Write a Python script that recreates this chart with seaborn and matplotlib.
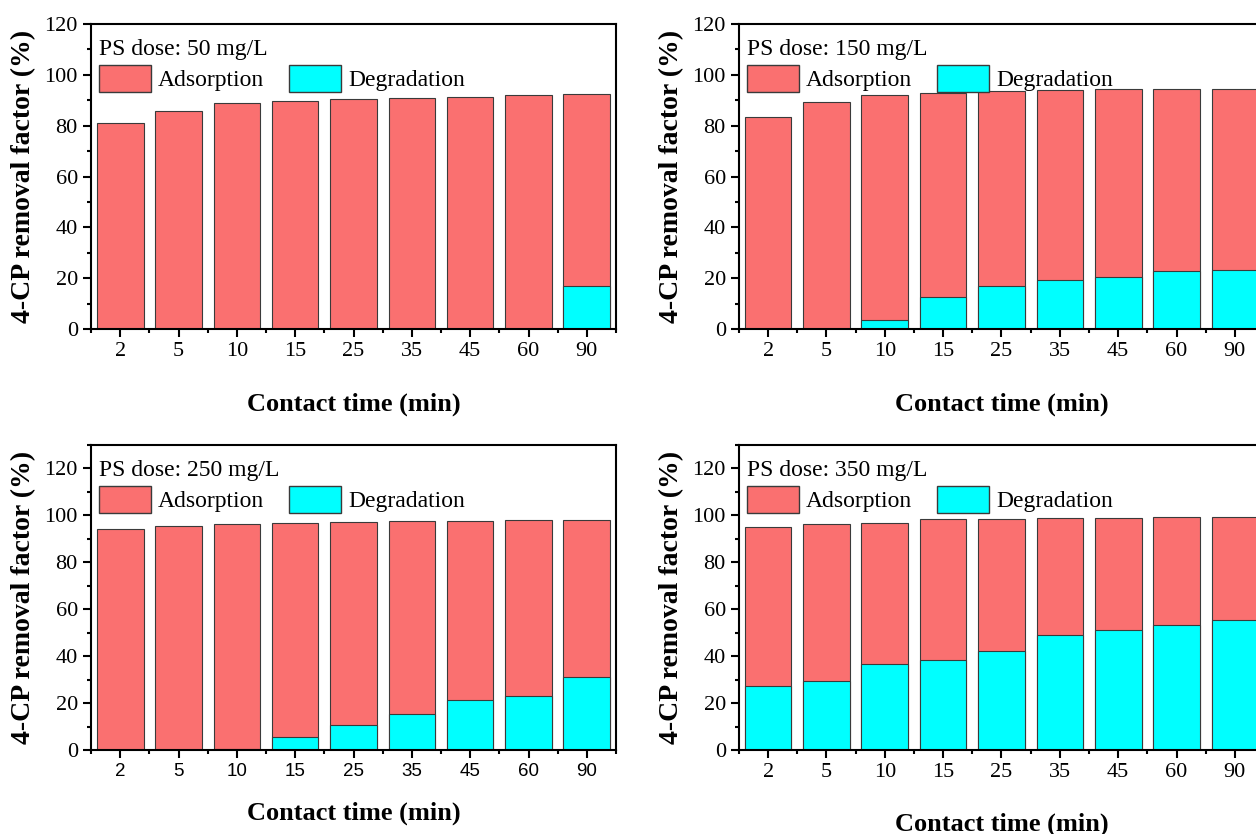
import matplotlib
matplotlib.use("Agg")
import matplotlib.pyplot as plt
import matplotlib.ticker as mticker
from matplotlib.patches import Patch
import seaborn as sns
import pandas as pd

# ---------------- data ----------------
times = ["2", "5", "10", "15", "25", "35", "45", "60", "90"]
doses = ["50", "150", "250", "350"]

total_50 = [80.9, 85.7, 89.1, 89.7, 90.6, 91.0, 91.2, 91.9, 92.3]
degr_50 = [0.0, 0.0, 0.0, 0.0, 0.0, 0.0, 0.0, 0.0, 16.9]

total_150 = [83.5, 89.5, 91.9, 92.7, 93.7, 94.1, 94.4, 94.4, 94.4]
degr_150 = [0.0, 0.0, 3.4, 12.5, 17.1, 19.2, 20.3, 22.7, 23.1]

total_250 = [94.3, 95.5, 96.5, 96.7, 97.0, 97.5, 97.5, 97.9, 97.9]
degr_250 = [0.0, 0.0, 0.6, 5.4, 10.8, 15.3, 21.4, 23.0, 31.0]

total_350 = [95.2, 96.3, 96.7, 98.5, 98.6, 99.0, 99.0, 99.3, 99.3]
degr_350 = [27.1, 29.4, 36.5, 38.5, 42.4, 49.2, 51.2, 53.4, 55.4]

totals = [total_50, total_150, total_250, total_350]
degrs = [degr_50, degr_150, degr_250, degr_350]
ymax = [120, 120, 130, 130]

# ---------------- style ----------------
sns.set_style("ticks")
plt.rcParams["font.family"] = ["Liberation Serif", "DejaVu Serif"]
plt.rcParams["axes.linewidth"] = 1.5
plt.rcParams["text.color"] = "black"
plt.rcParams["axes.labelcolor"] = "black"
plt.rcParams["xtick.color"] = "black"
plt.rcParams["ytick.color"] = "black"
plt.rcParams["axes.edgecolor"] = "black"

RED = "#FA7070"
CYAN = "#00FFFF"
EDGE = "#3a3a3a"

fig = plt.figure(figsize=(12.56, 8.34), dpi=100)
W, H = 1256, 834

# axes placement in pixels: (left, top, width, height)
boxes = [(91, 24, 525, 305), (739, 24, 525, 305),
         (91, 445, 525, 305), (739, 445, 525, 305)]
xlab_y = [-0.21, -0.21, -0.17, -0.205]

for i, (l, t, w, h) in enumerate(boxes):
    ax = fig.add_axes([l / W, 1 - (t + h) / H, w / W, h / H])
    ads = [tt - dd for tt, dd in zip(totals[i], degrs[i])]
    df = pd.DataFrame({"time": times, "total": totals[i],
                       "Degradation": degrs[i], "Adsorption": ads})
    sns.barplot(data=df, x="time", y="total", order=times, color=RED,
                saturation=1, edgecolor=EDGE, linewidth=0.8, width=0.8,
                errorbar=None, ax=ax)
    sns.barplot(data=df, x="time", y="Degradation", order=times, color=CYAN,
                saturation=1, edgecolor=EDGE, linewidth=0.8, width=0.8,
                errorbar=None, ax=ax)

    ax.set_xlim(-0.5, len(times) - 0.5)
    ax.set_ylim(0, ymax[i])
    ax.yaxis.set_major_locator(mticker.MultipleLocator(20))
    ax.yaxis.set_minor_locator(mticker.MultipleLocator(10))
    ax.set_yticks(range(0, 121, 20))
    ax.xaxis.set_minor_locator(mticker.FixedLocator(
        [k - 0.5 for k in range(len(times) + 1)]))

    for s in ax.spines.values():
        s.set_visible(True)
        s.set_linewidth(1.5)
        s.set_color("black")

    ax.tick_params(axis="both", which="major", direction="out", length=6,
                   width=1.5, labelsize=16, pad=3.5, colors="black")
    ax.tick_params(axis="both", which="minor", direction="out", length=3,
                   width=1.5, colors="black")
    ax.tick_params(top=False, right=False, which="both")

    if i == 2:
        for lab in ax.get_xticklabels():
            lab.set_fontfamily(["Liberation Sans", "DejaVu Sans"])
            lab.set_fontsize(13.5)

    ax.set_xlabel("Contact time (min)", fontsize=19, fontweight="bold",
                  color="black")
    ax.set_ylabel("4-CP removal factor (%)", fontsize=20, fontweight="bold",
                  color="black")
    ax.xaxis.set_label_coords(0.5, xlab_y[i])
    ax.yaxis.set_label_coords(-0.105, 0.5)

    ax.text(8 / w, 1 - 31 / h, f"PS dose: {doses[i]} mg/L",
            transform=ax.transAxes, fontsize=17, ha="left", va="baseline",
            color="black")

    handles = [Patch(facecolor=RED, edgecolor=EDGE, linewidth=1.0, label="Adsorption"),
               Patch(facecolor=CYAN, edgecolor=EDGE, linewidth=1.0, label="Degradation")]
    leg = ax.legend(handles=handles, loc="upper left",
                    bbox_to_anchor=(8 / w, 1 - 41 / h), ncol=2, frameon=False,
                    fontsize=17, handlelength=2.2, handleheight=1.35,
                    handletextpad=0.3, columnspacing=1.06, borderpad=0,
                    borderaxespad=0)
    for txt in leg.get_texts():
        txt.set_color("black")

fig.savefig("out.png", dpi=100)
